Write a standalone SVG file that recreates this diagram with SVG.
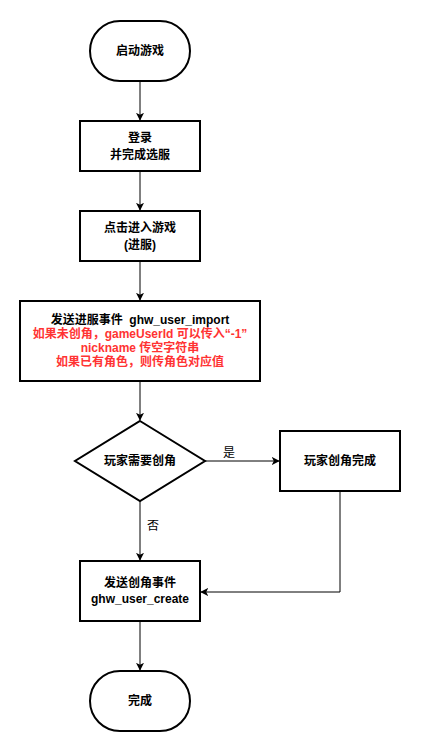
<svg xmlns="http://www.w3.org/2000/svg" width="421" height="752" viewBox="0 0 421 752">
<defs>
<marker id="arr" viewBox="0 0 10 10" refX="9" refY="5" markerWidth="8" markerHeight="8" markerUnits="userSpaceOnUse" orient="auto">
<path d="M0,0 L10,5 L0,10 L2.5,5 Z" fill="#000"/>
</marker>
<style>
.s{fill:#fff;stroke:#000;stroke-width:2}
.t{font-family:"Liberation Sans","Noto Sans CJK SC",sans-serif;font-size:12px;font-weight:bold;text-anchor:middle;dominant-baseline:central;fill:#000}
.r{fill:#FF3333}
.l{font-family:"Liberation Sans","Noto Sans CJK SC",sans-serif;font-size:12px;dominant-baseline:central;fill:#000}
.c{fill:none;stroke:#000;stroke-width:1}
</style>
</defs>
<rect width="421" height="752" fill="#fff"/>
<g id="connectors">
<path class="c" d="M140,81 L140,120" marker-end="url(#arr)"/>
<path class="c" d="M140,171 L140,210" marker-end="url(#arr)"/>
<path class="c" d="M140,261 L140,300" marker-end="url(#arr)"/>
<path class="c" d="M140,381 L140,420" marker-end="url(#arr)"/>
<path class="c" d="M205,461 L279,461" marker-end="url(#arr)"/>
<path class="c" d="M140,501 L140,560" marker-end="url(#arr)"/>
<path class="c" d="M340,491 L340,592 L201,592" marker-end="url(#arr)"/>
<path class="c" d="M140,621 L140,670" marker-end="url(#arr)"/>
<text class="l" x="223" y="453">是</text>
<text class="l" x="147" y="526">否</text>
</g>
<g id="start">
<rect class="s" x="90" y="21" width="100" height="60" rx="30" ry="30"/>
<text class="t" x="140" y="51">启动游戏</text>
</g>
<g id="login">
<rect class="s" x="80" y="121" width="120" height="50"/>
<text class="t" x="140" y="138">登录</text>
<text class="t" x="140" y="155">并完成选服</text>
</g>
<g id="enter">
<rect class="s" x="80" y="211" width="120" height="50"/>
<text class="t" x="140" y="228">点击进入游戏</text>
<text class="t" x="140" y="245">(进服)</text>
</g>
<g id="import">
<rect class="s" x="20" y="301" width="240" height="80"/>
<text class="t" x="140" y="320">发送进服事件&#160; ghw_user_import</text>
<text class="t r" x="140" y="334">如果未创角，gameUserId 可以传入“-1”</text>
<text class="t r" x="140" y="348">nickname 传空字符串</text>
<text class="t r" x="140" y="362">如果已有角色，则传角色对应值</text>
</g>
<g id="decision">
<polygon class="s" points="140,421 205,461 140,501 75,461"/>
<text class="t" x="140" y="461">玩家需要创角</text>
</g>
<g id="created">
<rect class="s" x="280" y="431" width="120" height="60"/>
<text class="t" x="340" y="461">玩家创角完成</text>
</g>
<g id="create">
<rect class="s" x="80" y="561" width="120" height="60"/>
<text class="t" x="140" y="583">发送创角事件</text>
<text class="t" x="140" y="599">ghw_user_create</text>
</g>
<g id="end">
<rect class="s" x="90" y="671" width="100" height="60" rx="30" ry="30"/>
<text class="t" x="140" y="701">完成</text>
</g>
</svg>
